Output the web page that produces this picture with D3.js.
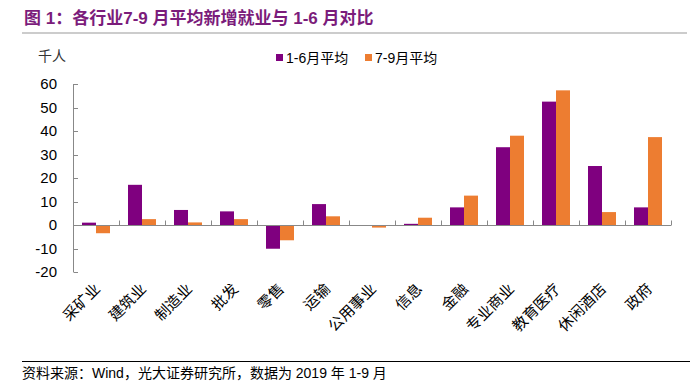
<!DOCTYPE html>
<html><head><meta charset="utf-8">
<script src="https://cdn.jsdelivr.net/npm/d3@7"></script>
<style>body{margin:0;background:#fff;} svg{display:block;}</style>
</head><body>
<script>
const categories = ["采矿业","建筑业","制造业","批发","零售","运输","公用事业","信息","金融","专业商业","教育医疗","休闲酒店","政府"];
const seriesNames = ["1-6月平均","7-9月平均"];
const h1 = [1.0, 17.1, 6.4, 5.8, -10.1, 8.9, 0.0, 0.5, 7.5, 33.1, 52.5, 25.1, 7.5];
const q3 = [-3.5, 2.5, 1.1, 2.5, -6.5, 3.7, -1.1, 3.1, 12.5, 38.0, 57.3, 5.5, 37.4];
const yTicks = [-20,-10,0,10,20,30,40,50,60];
const colors = ["#7F007F","#ED7D31"];

const W=700,H=382;
const svg=d3.select("body").append("svg").attr("width",W).attr("height",H);
const font="'Liberation Sans', Arial, sans-serif";
const mixed="'Liberation Sans', 'Noto Sans CJK SC', sans-serif";
const cjk="'Noto Sans CJK SC', sans-serif";

// title
svg.append("text").attr("x",24).attr("y",24).attr("fill","#7B1C7B")
 .attr("font-family",mixed).attr("font-weight","bold").attr("font-size",17)
 .text("图 1：各行业7-9 月平均新增就业与 1-6 月对比");
svg.append("line").attr("x1",22).attr("x2",687).attr("y1",33).attr("y2",33).attr("stroke","#999").attr("stroke-width",1);

const x=d3.scaleBand().domain(categories).range([73,671]).padding(0);
const y=d3.scaleLinear().domain([-20,60]).range([272,84]);
const sub=d3.scaleBand().domain([0,1]).range([0,28]);

// y axis
const g=svg.append("g");
g.append("line").attr("x1",73.5).attr("x2",73.5).attr("y1",y(60)).attr("y2",y(-20)).attr("stroke","#888");
yTicks.forEach(t=>{
  g.append("line").attr("x1",73.5).attr("x2",78).attr("y1",Math.round(y(t))+0.5).attr("y2",Math.round(y(t))+0.5).attr("stroke","#888");
  g.append("text").attr("x",57).attr("y",y(t)+5).attr("text-anchor","end").attr("font-family",font).attr("font-size",15).attr("fill","#000").text(t);
});
svg.append("text").attr("x",38).attr("y",61).attr("font-family",cjk).attr("font-size",14).attr("fill","#333").text("千人");

// bars
const series=[h1,q3];
series.forEach((vals,si)=>{
  svg.append("g").selectAll("rect").data(categories).join("rect")
   .attr("x",(c)=>x(c)+x.bandwidth()/2-14+sub(si))
   .attr("width",sub.bandwidth())
   .attr("y",(c,i)=>y(Math.max(0,vals[i])))
   .attr("height",(c,i)=>Math.abs(y(vals[i])-y(0)))
   .attr("fill",colors[si]);
});

// x axis
const zy=Math.round(y(0))+0.5;
svg.append("line").attr("x1",73).attr("x2",671).attr("y1",zy).attr("y2",zy).attr("stroke","#888");
categories.forEach((c,i)=>{
  const tx=Math.round(x(c)+x.bandwidth())+0.5;
  svg.append("line").attr("x1",tx).attr("x2",tx).attr("y1",zy).attr("y2",zy-5).attr("stroke","#888");
  const cx=x(c)+x.bandwidth()/2+5;
  svg.append("text").attr("transform",`translate(${cx},${290}) rotate(-45)`)
   .attr("text-anchor","end").attr("font-family",cjk).attr("font-size",15).attr("fill","#000").text(c);
});

// legend
const lg=[{x:276,t:seriesNames[0],c:colors[0]},{x:365,t:seriesNames[1],c:colors[1]}];
lg.forEach(l=>{
  svg.append("rect").attr("x",l.x).attr("y",54).attr("width",7).attr("height",7).attr("fill",l.c);
  svg.append("text").attr("x",l.x+10).attr("y",63).attr("font-family",mixed).attr("font-size",14).attr("fill","#000").text(l.t);
});

// footer
svg.append("line").attr("x1",22).attr("x2",690).attr("y1",361.5).attr("y2",361.5).attr("stroke","#000").attr("stroke-width",1);
svg.append("text").attr("x",22).attr("y",378).attr("font-family",mixed).attr("font-size",14).attr("fill","#000")
 .text("资料来源：Wind，光大证券研究所，数据为 2019 年 1-9 月");
</script>
</body></html>
